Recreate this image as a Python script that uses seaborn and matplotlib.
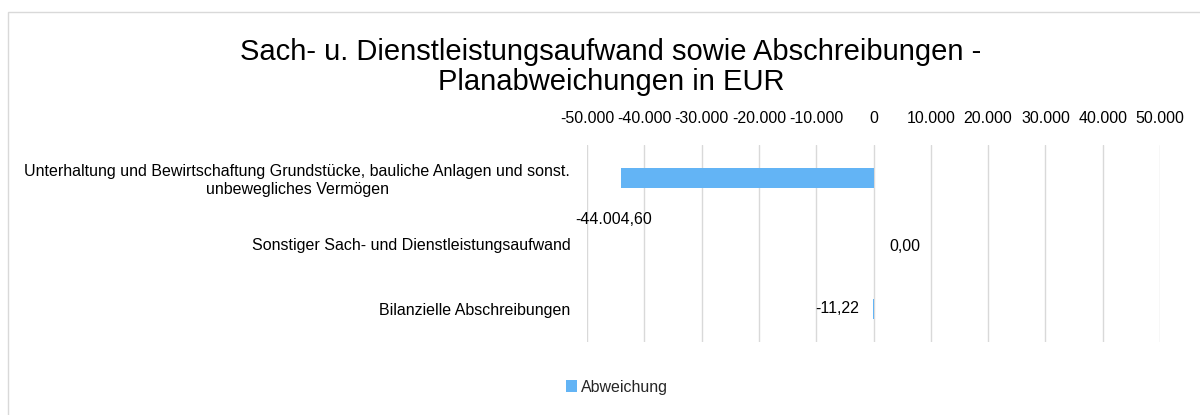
import matplotlib
matplotlib.use("Agg")
import matplotlib.pyplot as plt
import seaborn as sns
import pandas as pd
from matplotlib.patches import Rectangle
from matplotlib.ticker import FuncFormatter

categories = [
    "Unterhaltung und Bewirtschaftung Grundstücke, bauliche Anlagen und sonst.\nunbewegliches Vermögen",
    "Sonstiger Sach- und Dienstleistungsaufwand",
    "Bilanzielle Abschreibungen",
]
values = [-44004.60, 0.00, -11.22]
value_labels = ["-44.004,60", "0,00", "-11,22"]
series_name = "Abweichung"
title = "Sach- u. Dienstleistungsaufwand sowie Abschreibungen -\nPlanabweichungen in EUR"
ticks = [-50000, -40000, -30000, -20000, -10000, 0, 10000, 20000, 30000, 40000, 50000]

sns.set_theme(style="white")
plt.rcParams["font.family"] = ["Liberation Sans", "DejaVu Sans"]

df = pd.DataFrame({"Kategorie": categories, "Wert": values, "Serie": series_name})

fig = plt.figure(figsize=(12, 4.15), dpi=100)
fig.patch.set_facecolor("white")
fig.patches.append(Rectangle((8 / 1200, -0.1), 1.2, 1 - 12 / 415 + 0.1, transform=fig.transFigure,
                             fill=False, edgecolor="#D9D9D9", linewidth=1.0))
ax = fig.add_axes([587 / 1200, 1 - 342 / 415, (1160 - 587) / 1200, (342 - 145) / 415])

bar_color = "#63B4F5"
sns.barplot(data=df, x="Wert", y="Kategorie", hue="Serie", palette=[bar_color],
            orient="h", width=0.3, ax=ax, legend=False, saturation=1, linewidth=0)

ax.set_xlim(-50000, 50000)
ax.set_xticks(ticks)
ax.xaxis.set_major_formatter(FuncFormatter(lambda v, p: f"{int(v):,}".replace(",", ".")))
ax.xaxis.tick_top()
ax.tick_params(axis="x", length=0, labelsize=11.5, pad=14, colors="#000000")
ax.tick_params(axis="y", length=0, labelsize=11.5, pad=12, colors="#000000")
for lbl in ax.get_yticklabels():
    lbl.set_multialignment("center")
ax.set_xlabel("")
ax.set_ylabel("")
ax.grid(axis="x", color="#D9D9D9", linewidth=1.0)
ax.set_axisbelow(True)
for s in ax.spines.values():
    s.set_visible(False)

offsets = [(-8, -42), (31, -69), (-36, -131)]
for i, (v, t, off) in enumerate(zip(values, value_labels, offsets)):
    ax.annotate(t, xy=(v, 0), xycoords=("data", "data"), xytext=off, textcoords="offset pixels",
                ha="center", va="center", fontsize=11.5, color="#000000")

fig.text(611 / 1200, 1 - 67 / 415, title, ha="center", va="center", fontsize=21,
         color="#000000", linespacing=1.1)

handle = Rectangle((0, 0), 1, 1, facecolor=bar_color, edgecolor="none")
fig.legend([handle], [series_name], loc="center", bbox_to_anchor=(617 / 1200, 1 - 387 / 415),
           frameon=False, fontsize=11.5, handlelength=0.7, handleheight=0.7, handletextpad=0.2)

fig.savefig("out.png", dpi=100, facecolor="white")
